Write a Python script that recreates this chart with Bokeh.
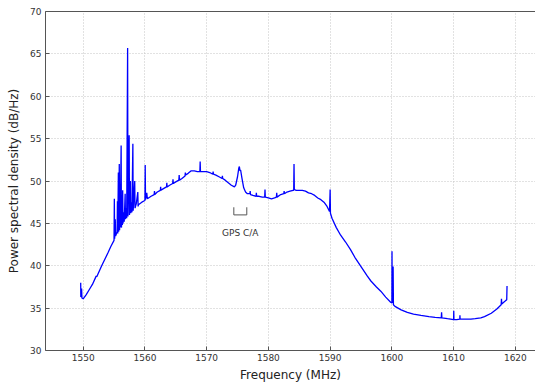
from bokeh.plotting import figure
from bokeh.models import LinearAxis, FixedTicker, Range1d
from bokeh.core.properties import value
from bokeh.embed import file_html
from bokeh.resources import INLINE

# Spectrum (frequency in MHz, PSD in dB/Hz)
freq = [
    1549.6, 1549.62, 1549.75, 1549.8, 1550.0, 1550.5, 1551.0, 1551.5, 1552.0, 1552.1,
    1552.2, 1553.0, 1554.0, 1554.5, 1555.0,
    1555.05, 1555.1, 1555.2, 1555.25, 1555.5, 1555.55, 1555.6, 1555.7, 1555.75, 1555.85,
    1555.9, 1555.95, 1556.0, 1556.15, 1556.2, 1556.3, 1556.35, 1556.4, 1556.45, 1556.6,
    1556.65, 1556.8, 1556.85, 1557.0, 1557.05, 1557.2, 1557.25, 1557.45, 1557.5, 1557.65,
    1557.7, 1557.85, 1557.9, 1558.05, 1558.1, 1558.35, 1558.4, 1558.6, 1558.85, 1558.9,
    1558.95, 1559.5, 1560.0, 1560.05, 1560.1, 1560.3, 1560.4, 1561.0, 1561.5, 1561.55,
    1561.6, 1562.0, 1562.5, 1562.55, 1562.6, 1563.0, 1563.5, 1563.55, 1563.6, 1564.0,
    1564.5, 1564.55, 1564.6, 1565.0, 1565.5, 1565.55, 1565.6, 1566.0, 1566.5, 1566.55,
    1566.6, 1567.0, 1567.5, 1568.0, 1568.5, 1568.9, 1568.95, 1569.0, 1569.5, 1570.0,
    1570.5, 1571.0, 1571.05, 1571.1, 1571.5, 1572.0, 1572.5, 1572.55, 1572.6, 1573.0,
    1573.5, 1574.0, 1574.5, 1574.7, 1575.0, 1575.2, 1575.3, 1575.4, 1575.5, 1575.7,
    1576.0, 1576.3, 1576.6, 1577.0, 1577.05, 1577.1, 1577.5, 1578.0, 1578.05, 1578.1,
    1578.5, 1579.0, 1579.4, 1579.45, 1579.5, 1580.0, 1580.5, 1581.0, 1581.3, 1581.35,
    1581.4, 1582.0, 1582.5, 1582.55, 1582.6, 1583.0, 1583.5, 1584.0, 1584.1, 1584.15,
    1584.2, 1584.5, 1585.0, 1585.5, 1586.0, 1586.5, 1587.0, 1587.5, 1588.0, 1588.5,
    1589.0, 1589.5, 1589.9, 1590.0, 1590.05, 1590.3, 1591.0, 1591.7, 1592.5, 1593.3,
    1594.0, 1595.0, 1596.0, 1596.6, 1597.5, 1598.2, 1599.0, 1599.8, 1600.0, 1600.02,
    1600.05, 1600.2, 1600.25, 1600.5, 1601.5, 1602.5, 1603.5, 1604.7, 1606.0, 1607.0,
    1608.0, 1608.05, 1608.1, 1609.0, 1610.0, 1610.02, 1610.05, 1610.5, 1611.0, 1611.02,
    1611.05, 1612.0, 1612.8, 1613.5, 1614.4, 1615.0, 1616.1, 1617.0, 1617.7, 1617.75,
    1617.8, 1618.3, 1618.6, 1618.65,
]
psd = [
    38.0, 36.3, 37.3, 36.2, 36.1, 36.6, 37.2, 37.8, 38.6, 38.8,
    38.7, 40.0, 41.5, 42.3, 43.0,
    47.9, 43.2, 45.5, 43.5, 44.0, 47.6, 43.8, 51.0, 44.0, 52.0,
    44.2, 46.5, 44.5, 54.2, 44.5, 46.0, 44.8, 48.9, 45.0, 46.3,
    45.2, 48.5, 45.5, 46.8, 45.6, 65.7, 45.8, 55.4, 46.0, 50.0,
    46.2, 47.5, 46.3, 54.4, 46.5, 50.0, 46.8, 47.3, 48.7, 47.0,
    47.2, 47.5, 47.7, 51.9, 47.8, 48.6, 47.9, 48.2, 48.4, 48.8,
    48.4, 48.7, 48.9, 49.3, 48.9, 49.1, 49.3, 49.8, 49.3, 49.5,
    49.7, 50.2, 49.7, 49.9, 50.1, 50.7, 50.1, 50.3, 50.6, 51.0,
    50.7, 50.9, 51.2, 51.2, 51.1, 51.1, 52.3, 51.1, 51.1, 51.1,
    51.0, 50.8, 51.1, 50.8, 50.7, 50.5, 50.3, 50.6, 50.3, 50.1,
    49.8, 49.5, 49.3, 49.5, 50.5, 51.5, 51.7, 51.2, 51.3, 50.4,
    49.2, 48.7, 48.5, 48.5, 48.8, 48.4, 48.3, 48.2, 48.6, 48.2,
    48.2, 48.1, 48.1, 49.0, 48.1, 48.0, 47.9, 48.0, 48.1, 48.6,
    48.1, 48.4, 48.5, 48.8, 48.5, 48.7, 48.8, 48.9, 48.9, 52.0,
    49.0, 48.9, 48.9, 48.9, 48.8, 48.6, 48.5, 48.3, 48.0, 47.8,
    47.5, 47.0, 46.4, 49.0, 46.2, 45.6, 44.5, 43.6, 42.8, 41.9,
    41.0, 39.9, 38.8, 38.2, 37.5, 37.0, 36.3, 35.7, 35.6, 41.7,
    35.6, 39.9, 35.4, 35.2, 34.8, 34.5, 34.3, 34.15, 34.0, 33.9,
    33.85, 34.5, 33.85, 33.75, 33.65, 34.7, 33.65, 33.65, 33.7, 34.15,
    33.7, 33.7, 33.7, 33.75, 33.85, 34.0, 34.4, 34.9, 35.4, 36.1,
    35.5, 35.8, 36.0, 37.6,
]

x_ticks = [1550, 1560, 1570, 1580, 1590, 1600, 1610, 1620]
y_ticks = [30, 35, 40, 45, 50, 55, 60, 65, 70]

annot_label = "GPS C/A"
bracket_x = [1574.4, 1574.4, 1576.5, 1576.5]
bracket_y = [46.9, 46.0, 46.0, 46.9]

FONT = "DejaVu Sans"
SPINE = "#555555"
TXT = "#333333"

p = figure(width=535, height=384, output_backend="svg", toolbar_location=None,
           x_range=Range1d(1543.9, 1623.26), y_range=Range1d(30, 70),
           min_border_left=45, min_border_right=0, min_border_top=11,
           min_border_bottom=33, x_axis_label="Frequency (MHz)",
           y_axis_label="Power spectral density (dB/Hz)")
p.outline_line_color = None
p.background_fill_color = "white"
p.border_fill_color = "white"

p.line(freq, psd, line_color="#0000ff", line_width=1.3)
p.line(bracket_x, bracket_y, line_color="#555555", line_width=1)
p.text(x=[(bracket_x[0] + bracket_x[-1]) / 2], y=[43.9], text=[annot_label],
       text_font=value(FONT), text_font_size="9px", text_color=TXT,
       text_align="center", text_baseline="middle")

for ax, ticks in ((p.xaxis[0], x_ticks), (p.yaxis[0], y_ticks)):
    ax.ticker = FixedTicker(ticks=ticks)
    ax.axis_line_color = SPINE
    ax.major_tick_in = 4
    ax.major_tick_out = 0
    ax.major_tick_line_color = SPINE
    ax.minor_tick_line_color = None
    ax.major_label_text_font = FONT
    ax.major_label_text_font_size = "9px"
    ax.major_label_text_color = TXT
    ax.axis_label_text_font = FONT
    ax.axis_label_text_font_size = "12px"
    ax.axis_label_text_font_style = "normal"
    ax.axis_label_text_color = "#222222"

p.xaxis[0].major_label_standoff = 3
p.xaxis[0].axis_label_standoff = 4
p.yaxis[0].major_label_standoff = 4
p.yaxis[0].axis_label_standoff = 6

top = LinearAxis(ticker=FixedTicker(ticks=[]), axis_line_color=SPINE,
                 major_tick_line_color=None, minor_tick_line_color=None)
p.add_layout(top, "above")

p.xgrid.ticker = FixedTicker(ticks=x_ticks)
p.ygrid.ticker = FixedTicker(ticks=y_ticks)
p.grid.grid_line_color = "#c4c4c4"
p.grid.grid_line_dash = "1 2"
p.grid.grid_line_width = 1

open("out.html", "w").write(file_html(p, INLINE))
